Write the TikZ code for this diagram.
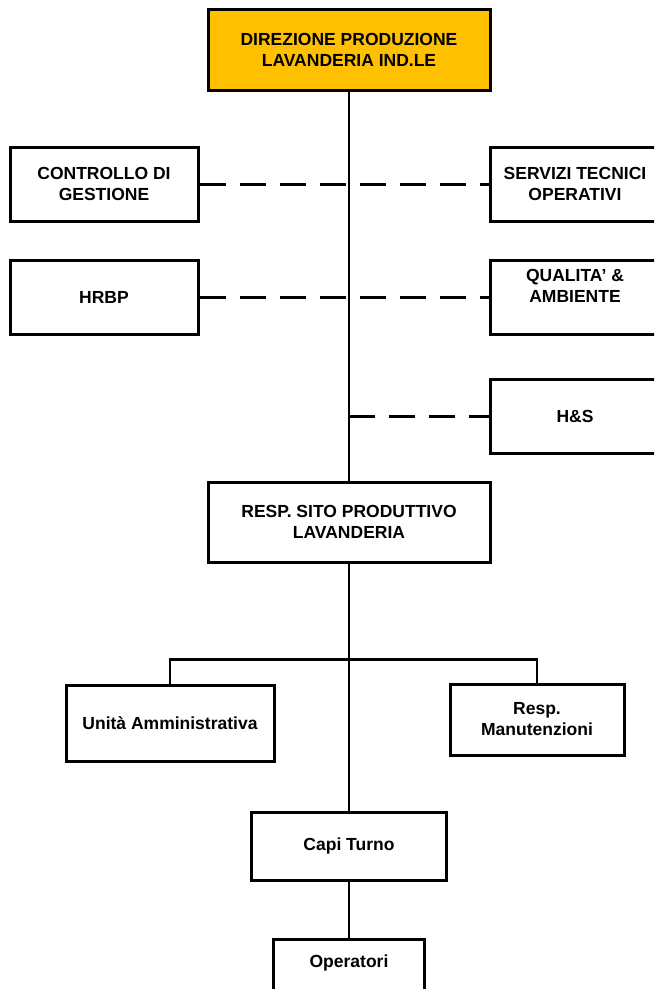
\documentclass[tikz,border=0pt]{standalone}
\usepackage{fontspec}
\setmainfont{Liberation Sans}
\definecolor{headfill}{HTML}{FFC000}
\begin{document}
\begin{tikzpicture}[x=1pt,y=-1pt,
  box/.style={draw=black,line width=3pt,rectangle,align=center,inner sep=0pt,
    font=\bfseries\fontsize{17.5}{21}\selectfont,text=black},
  link/.style={draw=black,line width=2.8pt},
  staff/.style={draw=black,line width=3pt,dash pattern=on 26pt off 14pt}]
\clip (0,0) rectangle (654,989);
\fill[white] (0,0) rectangle (654,989);

% top management
\node[box,fill=headfill,minimum width=282pt,minimum height=81pt] (dir) at (349,49.5)
  {DIREZIONE PRODUZIONE\\LAVANDERIA IND.LE};

% staff functions
\node[box,minimum width=188pt,minimum height=74pt] (cdg) at (104,184) {CONTROLLO DI\\GESTIONE};
\node[box,minimum width=170pt,minimum height=74pt] (sto) at (575,184) {SERVIZI TECNICI\\OPERATIVI};
\node[box,minimum width=188pt,minimum height=74pt] (hrbp) at (104,297) {HRBP};
\node[box,minimum width=170pt,minimum height=74pt] (qa) at (575,297) {};
\node[box,draw=none,anchor=center] (qatext) at (575,286) {QUALITA' \&\\AMBIENTE};
\node[box,minimum width=170pt,minimum height=74pt] (hs) at (575,416) {H\&S};

% site
\node[box,minimum width=282pt,minimum height=80pt] (sito) at (349,522)
  {RESP. SITO PRODUTTIVO\\LAVANDERIA};

% site units
\node[box,minimum width=208pt,minimum height=76pt] (ua) at (170,723) {Unità Amministrativa};
\node[box,minimum width=174pt,minimum height=71pt] (rm) at (537,719.5) {Resp.\\Manutenzioni};
\node[box,minimum width=195pt,minimum height=68pt] (ct) at (349,846) {Capi Turno};
\node[box,minimum width=151pt,minimum height=60pt] (op) at (349,969) {};
\node[box,draw=none] (optext) at (349,963) {Operatori};

% line connectors
\draw[link] (dir.south) -- (sito.north);
\draw[link] (sito.south) -- (ct.north);
\draw[link] (ct.south) -- (op.north);
\draw[link] (ua.north) -- ++(0,-24) -| (rm.north);

% staff connectors
\draw[staff] (cdg.east) -- (sto.west);
\draw[staff] (hrbp.east) -- (qa.west);
\coordinate (hsjoin) at (dir.south |- hs.west);
\draw[staff] (hsjoin) -- (hs.west);
\end{tikzpicture}
\end{document}
